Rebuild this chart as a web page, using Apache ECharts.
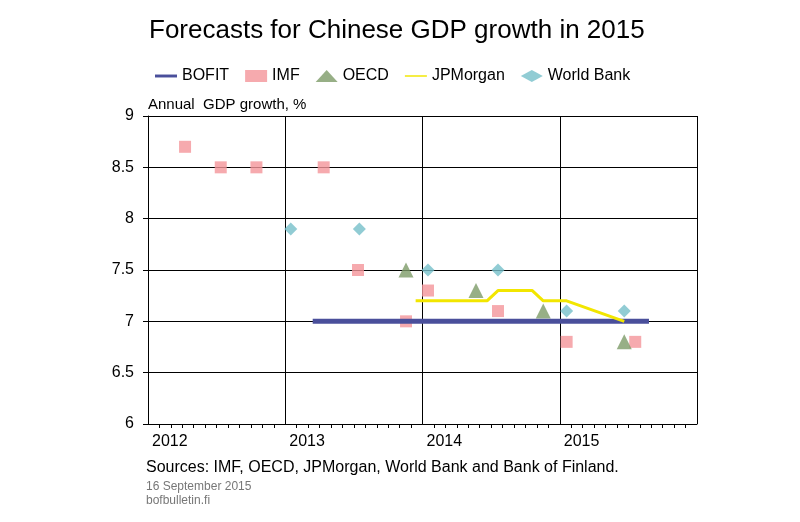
<!DOCTYPE html><html><head><meta charset="utf-8"><script src="https://cdn.jsdelivr.net/npm/echarts@6/dist/echarts.min.js"></script></head><body style="margin:0"><div id="c" style="width:800px;height:522px"></div><script>
const imfX=[2012.27,2012.53,2012.79,2013.28,2013.53,2013.88,2014.04,2014.55,2015.05,2015.55];
const imfY=[8.7,8.5,8.5,8.5,7.5,7.0,7.3,7.1,6.8,6.8];
const wbX=[2013.04,2013.54,2014.04,2014.55,2015.05,2015.47];
const wbY=[7.9,7.9,7.5,7.5,7.1,7.1];
const oecdX=[2013.88,2014.39,2014.88,2015.47];
const oecdY=[7.5,7.3,7.1,6.8];
const jpmX=[2013.95,2014.47,2014.55,2014.80,2014.88,2015.05,2015.47];
const jpmY=[7.2,7.2,7.3,7.3,7.2,7.2,7.0];
const bofX=[2013.2,2015.65];
const bofY=[7,7];
const z=(a,b)=>a.map((v,i)=>[v,b[i]]);
const F='Liberation Sans, Arial, sans-serif';
const c=echarts.init(document.getElementById('c'));
c.setOption({
animation:false,
title:{text:'Forecasts for Chinese GDP growth in 2015',left:144,top:13,textStyle:{fontFamily:F,fontSize:26,fontWeight:'normal',color:'#000'}},
legend:{top:63,left:150,itemGap:16,textStyle:{fontFamily:F,fontSize:16,color:'#000'},itemWidth:22,itemHeight:12,
data:[{name:'BOFIT',icon:'path://M0,4 L30,4 L30,8 L0,8 Z',itemWidth:28},{name:'IMF',icon:'rect',itemWidth:12},{name:'OECD',icon:'triangle',itemWidth:14,itemHeight:14},{name:'JPMorgan',icon:'path://M0,5 L30,5 L30,7 L0,7 Z',itemWidth:28},{name:'World Bank',icon:'diamond',itemWidth:12}]},
grid:{left:148,right:103,top:116,bottom:98},
xAxis:{type:'value',min:2012,max:2016,interval:1,
axisLabel:{align:'left',padding:[0,0,0,4],fontFamily:F,fontSize:16,color:'#000',margin:10,formatter:v=>v<2016?String(v):''},
axisLine:{lineStyle:{color:'#000'}},axisTick:{show:false},minorTick:{show:true,splitNumber:12,length:4,lineStyle:{color:'#000'}},
splitLine:{show:true,lineStyle:{color:'#000',width:1}}},
yAxis:{type:'value',min:6,max:9,interval:0.5,name:'Annual  GDP growth, %',nameLocation:'end',nameGap:4,
nameTextStyle:{align:'left',fontFamily:F,fontSize:15,color:'#000'},
axisLabel:{fontFamily:F,fontSize:16,color:'#000',margin:14},axisLine:{show:true,lineStyle:{color:'#000'}},axisTick:{show:true,length:5,lineStyle:{color:'#000'}},
splitLine:{lineStyle:{color:'#000',width:1}}},
series:[
{name:'BOFIT',type:'line',data:z(bofX,bofY),symbol:'none',lineStyle:{color:'#4a4f9b',width:5},itemStyle:{color:'#4a4f9b'}},
{name:'IMF',type:'scatter',data:z(imfX,imfY),symbol:'rect',symbolSize:12,itemStyle:{color:'#f4959a'}},
{name:'OECD',type:'scatter',data:z(oecdX,oecdY),symbol:'triangle',symbolSize:15,itemStyle:{color:'#7d9b68'}},
{name:'JPMorgan',type:'line',data:z(jpmX,jpmY),symbol:'none',lineStyle:{color:'#f2e600',width:3},itemStyle:{color:'#f2e600'}},
{name:'World Bank',type:'scatter',data:z(wbX,wbY),symbol:'diamond',symbolSize:13,itemStyle:{color:'#75bfc9'}}
],
graphic:[
{type:'text',left:146,top:460,style:{text:'Sources: IMF, OECD, JPMorgan, World Bank and Bank of Finland.',font:'16px '+F,fill:'#000'}},
{type:'text',left:146,top:481,style:{text:'16 September 2015',font:'12px '+F,fill:'#777'}},
{type:'text',left:146,top:495,style:{text:'bofbulletin.fi',font:'12px '+F,fill:'#777'}}
]});
</script></body></html>
